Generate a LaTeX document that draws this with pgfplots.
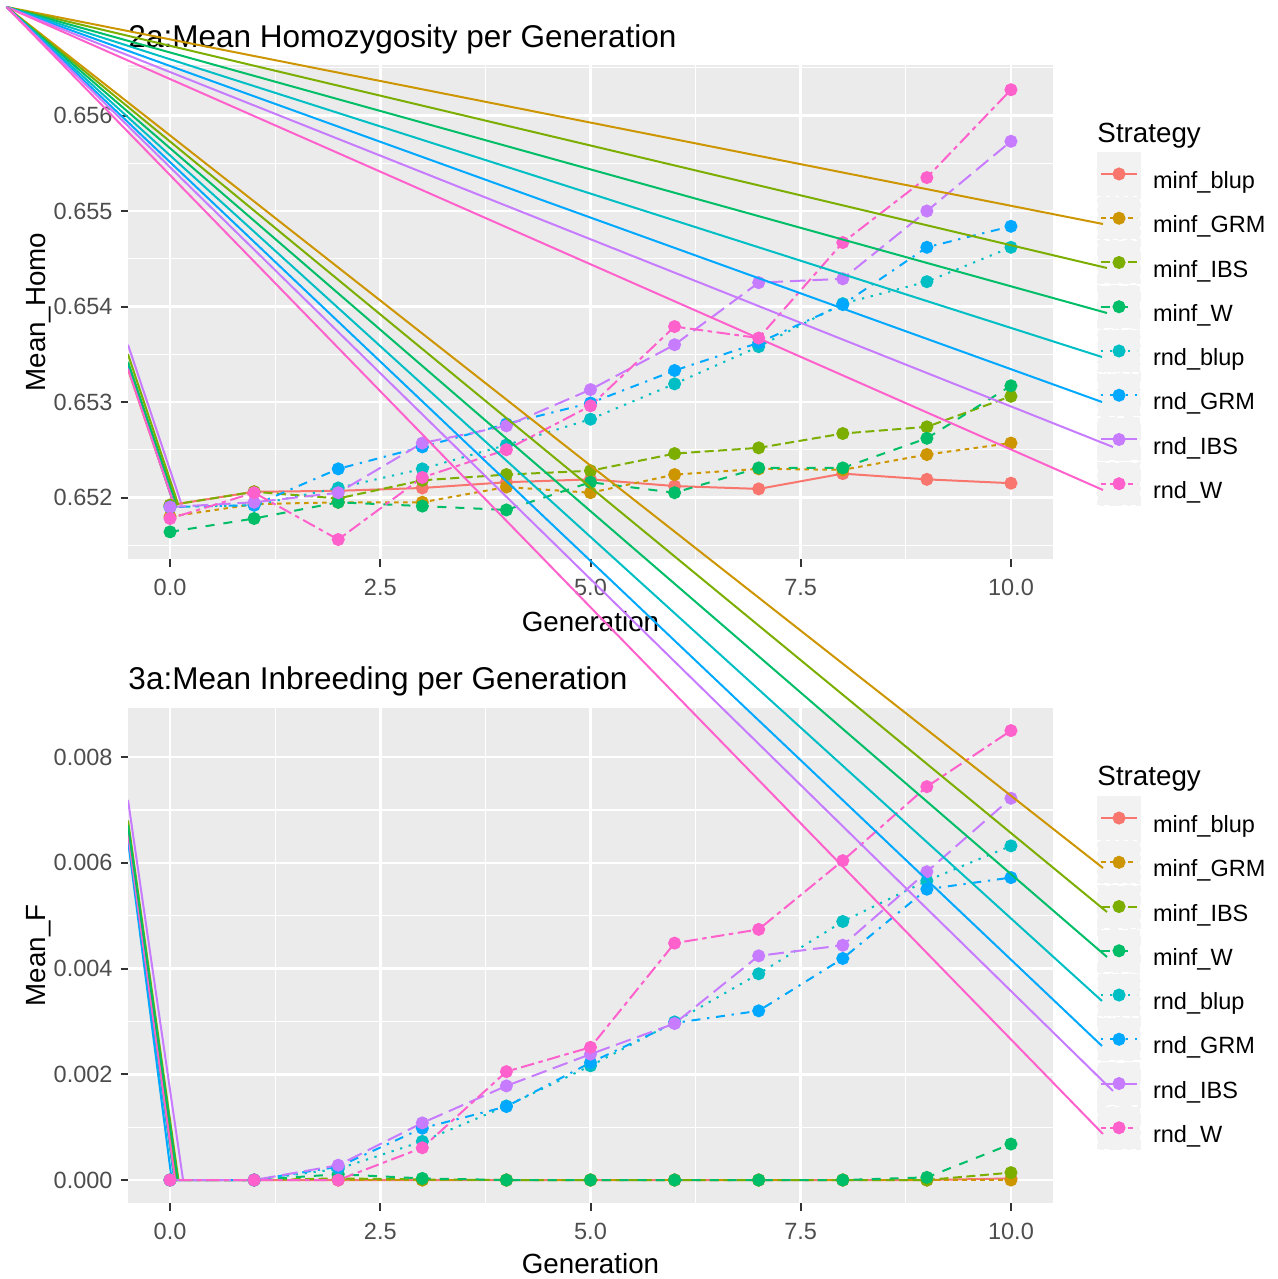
\documentclass[border=0pt]{standalone}
\usepackage{fontspec}
\setmainfont{Liberation Sans}
\usepackage{pgfplots}
\usepackage{pgfplotstable}
\pgfplotsset{compat=1.18}

\definecolor{cA}{HTML}{F8766D}
\definecolor{cB}{HTML}{CD9600}
\definecolor{cC}{HTML}{7CAE00}
\definecolor{cD}{HTML}{00BE67}
\definecolor{cE}{HTML}{00BFC4}
\definecolor{cF}{HTML}{00A9FF}
\definecolor{cG}{HTML}{C77CFF}
\definecolor{cH}{HTML}{FF61CC}
\definecolor{panelbg}{HTML}{EBEBEB}
\definecolor{keybg}{HTML}{F2F2F2}
\definecolor{tickgray}{HTML}{4D4D4D}
\definecolor{tickmark}{HTML}{333333}

\newcommand\tickfont{\fontsize{9.4}{11}\selectfont}
\newcommand\labfont{\fontsize{11.1}{13}\selectfont}
\newcommand\titfont{\fontsize{12.6}{15}\selectfont}

% Mean_Homo per generation
\pgfplotstableread{
gen mblup   mGRM    mIBS    mW      rblup   rGRM    rIBS    rW
0   0.65192 0.65180 0.65192 0.65164 0.65190 0.65190 0.65190 0.65178
1   0.65206 0.65193 0.65206 0.65178 0.65192 0.65192 0.65195 0.65205
2   0.65207 0.65195 0.65199 0.65195 0.65210 0.65230 0.65205 0.65156
3   0.65210 0.65195 0.65218 0.65191 0.65230 0.65253 0.65257 0.65221
4   0.65216 0.65211 0.65224 0.65187 0.65255 0.65277 0.65275 0.65250
5   0.65219 0.65205 0.65228 0.65216 0.65282 0.65299 0.65313 0.65296
6   0.65212 0.65224 0.65246 0.65205 0.65319 0.65333 0.65360 0.65379
7   0.65209 0.65230 0.65252 0.65231 0.65358 0.65362 0.65425 0.65367
8   0.65225 0.65229 0.65267 0.65231 0.65403 0.65402 0.65429 0.65467
9   0.65219 0.65245 0.65274 0.65262 0.65426 0.65462 0.65500 0.65535
10  0.65215 0.65257 0.65306 0.65317 0.65462 0.65484 0.65573 0.65627
}\homo

% Mean_F per generation
\pgfplotstableread{
gen mblup   mGRM    mIBS    mW      rblup    rGRM     rIBS     rW
0   0       0       0       0       0        0        0        0
1   0       0       0       0       0        0        0        0
2   0       0       0.00003 0.00011 0.00021  0.00025  0.00028  0
3   0       0       0.00001 0.00003 0.00073  0.00098  0.00108  0.00061
4   0       0       0       0       0.00140  0.00139  0.00178  0.00205
5   0       0       0       0       0.00216  0.00222  0.00238  0.00251
6   0       0       0       0       0.00299  0.00297  0.00296  0.00448
7   0       0       0       0       0.00390  0.00320  0.00424  0.00474
8   0       0       0       0       0.00489  0.00419  0.00444  0.00604
9   0       0       0       0.00005 0.00566  0.00550  0.00583  0.00744
10  0.00003 0       0.00014 0.00068 0.00632  0.00572  0.00722  0.00850
}\inbr

\pgfplotsset{
  lt1/.style={solid},
  lt2/.style={dash pattern=on 1.8pt off 1.8pt},
  lt3/.style={dash pattern=on 3.6pt off 1.8pt},
  lt4/.style={dash pattern=on 3.6pt off 3.6pt},
  lt5/.style={dash pattern=on 0.9pt off 2.7pt},
  lt6/.style={dash pattern=on 0.9pt off 2.7pt on 3.6pt off 2.7pt},
  lt7/.style={dash pattern=on 6.3pt off 2.7pt},
  lt8/.style={dash pattern=on 1.8pt off 1.8pt on 5.4pt off 1.8pt},
  ggpanel/.style={
    scale only axis, width=370pt,
    xmin=-0.5, xmax=10.5,
    axis background/.style={fill=panelbg},
    axis line style={draw=none},
    tick align=outside, tick pos=left,
    major tick length=3pt, minor tick length=0pt,
    tick style={draw=tickmark, line width=0.8pt},
    grid=both,
    major grid style={white, line width=1pt},
    minor grid style={white, line width=0.5pt},
    xtick={0,2.5,5,7.5,10},
    xticklabels={0.0,2.5,5.0,7.5,10.0},
    minor xtick={1.25,3.75,6.25,8.75},
    scaled ticks=false,
    tick label style={font=\tickfont, text=tickgray, inner sep=0pt},
    xticklabel style={yshift=-5pt},
    yticklabel style={xshift=-3pt},
    legend style={draw=none, fill=none, inner sep=0pt, outer sep=0pt,
      row sep=0.1pt, column sep=4.8pt, anchor=north west,
      nodes={inner sep=0pt, font=\tickfont, text=black}},
    legend cell align=left,
    legend image code/.code={%
      \fill[keybg] (0pt,-5.2pt) rectangle (16.8pt,11.6pt);
      \draw[mark repeat=2,mark phase=2] plot coordinates {(1.2pt,3.2pt)(8.4pt,3.2pt)(15.6pt,3.2pt)};
    },
    every axis plot/.append style={line width=0.8pt},
  },
  lineonly/.style={no marks, forget plot},
  dots/.style={only marks, mark=*, mark size=2.2pt, forget plot},
  keyimg/.style={mark=*, mark size=2.2pt, mark options={solid}, line width=0.8pt},
}

\begin{document}
\begin{tikzpicture}
\path[use as bounding box] (0pt,0pt) rectangle (511.2pt,-511.6pt);

% ---------------- 2a ----------------
\begin{axis}[ggpanel,
  at={(51.2pt,-223.6pt)}, anchor=south west,
  height=197.6pt,
  ymin=0.651356, ymax=0.656529,
  ytick={0.652,0.653,0.654,0.655,0.656},
  yticklabels={0.652,0.653,0.654,0.655,0.656},
  minor ytick={0.6515,0.6525,0.6535,0.6545,0.6555,0.6565},
  legend style={at={(1.0476,0.8239)}},
]
% stray segments at the left edge
\addplot[cA, lineonly] coordinates {(-0.5,0.65334) (0.05,0.65192)};
\addplot[cB, lineonly] coordinates {(-0.5,0.65336) (0.05,0.65192)};
\addplot[cE, lineonly] coordinates {(-0.5,0.65339) (0.05,0.65192)};
\addplot[cF, lineonly] coordinates {(-0.5,0.65337) (0.05,0.65192)};
\addplot[cH, lineonly] coordinates {(-0.5,0.65335) (0.05,0.65192)};
\addplot[cD, lineonly] coordinates {(-0.5,0.65342) (0.08,0.65192)};
\addplot[cC, lineonly] coordinates {(-0.5,0.65350) (0.10,0.65192)};
\addplot[cG, lineonly] coordinates {(-0.5,0.65360) (0.14,0.65192)};

\addplot[cA, lt1, lineonly] table[x=gen, y=mblup] {\homo};
\addplot[cB, lt2, lineonly] table[x=gen, y=mGRM] {\homo};
\addplot[cC, lt3, lineonly] table[x=gen, y=mIBS] {\homo};
\addplot[cD, lt4, lineonly] table[x=gen, y=mW] {\homo};
\addplot[cE, lt5, lineonly] table[x=gen, y=rblup] {\homo};
\addplot[cF, lt6, lineonly] table[x=gen, y=rGRM] {\homo};
\addplot[cG, lt7, lineonly] table[x=gen, y=rIBS] {\homo};
\addplot[cH, lt8, lineonly] table[x=gen, y=rW] {\homo};

\addplot[cA, dots] table[x=gen, y=mblup] {\homo};
\addplot[cB, dots] table[x=gen, y=mGRM] {\homo};
\addplot[cC, dots] table[x=gen, y=mIBS] {\homo};
\addplot[cD, dots] table[x=gen, y=mW] {\homo};
\addplot[cE, dots] table[x=gen, y=rblup] {\homo};
\addplot[cF, dots] table[x=gen, y=rGRM] {\homo};
\addplot[cG, dots] table[x=gen, y=rIBS] {\homo};
\addplot[cH, dots] table[x=gen, y=rW] {\homo};

\addlegendimage{cA, lt1, keyimg}\addlegendentry{minf\_blup}
\addlegendimage{cB, lt2, keyimg}\addlegendentry{minf\_GRM}
\addlegendimage{cC, lt3, keyimg}\addlegendentry{minf\_IBS}
\addlegendimage{cD, lt4, keyimg}\addlegendentry{minf\_W}
\addlegendimage{cE, lt5, keyimg}\addlegendentry{rnd\_blup}
\addlegendimage{cF, lt6, keyimg}\addlegendentry{rnd\_GRM}
\addlegendimage{cG, lt7, keyimg}\addlegendentry{rnd\_IBS}
\addlegendimage{cH, lt8, keyimg}\addlegendentry{rnd\_W}
\end{axis}

% ---------------- 3a ----------------
\begin{axis}[ggpanel,
  at={(51.2pt,-481.2pt)}, anchor=south west,
  height=198pt,
  ymin=-0.000435, ymax=0.008927,
  ytick={0,0.002,0.004,0.006,0.008},
  yticklabels={0.000,0.002,0.004,0.006,0.008},
  minor ytick={0.001,0.003,0.005,0.007},
  legend style={at={(1.0476,0.8222)}},
]
\addplot[cA, lineonly] coordinates {(-0.5,0.00655) (0.06,0)};
\addplot[cB, lineonly] coordinates {(-0.5,0.00665) (0.07,0)};
\addplot[cE, lineonly] coordinates {(-0.5,0.00648) (0.05,0)};
\addplot[cF, lineonly] coordinates {(-0.5,0.00643) (0.02,0)};
\addplot[cH, lineonly] coordinates {(-0.5,0.00656) (0.06,0)};
\addplot[cC, lineonly] coordinates {(-0.5,0.00680) (0.10,0)};
\addplot[cD, lineonly] coordinates {(-0.5,0.00671) (0.09,0)};
\addplot[cG, lineonly] coordinates {(-0.5,0.00719) (0.155,0)};

\addplot[cA, lt1, lineonly] table[x=gen, y=mblup] {\inbr};
\addplot[cB, lt2, lineonly] table[x=gen, y=mGRM] {\inbr};
\addplot[cC, lt3, lineonly] table[x=gen, y=mIBS] {\inbr};
\addplot[cD, lt4, lineonly] table[x=gen, y=mW] {\inbr};
\addplot[cE, lt5, lineonly] table[x=gen, y=rblup] {\inbr};
\addplot[cF, lt6, lineonly] table[x=gen, y=rGRM] {\inbr};
\addplot[cG, lt7, lineonly] table[x=gen, y=rIBS] {\inbr};
\addplot[cH, lt8, lineonly] table[x=gen, y=rW] {\inbr};

\addplot[cA, dots] table[x=gen, y=mblup] {\inbr};
\addplot[cB, dots] table[x=gen, y=mGRM] {\inbr};
\addplot[cC, dots] table[x=gen, y=mIBS] {\inbr};
\addplot[cD, dots] table[x=gen, y=mW] {\inbr};
\addplot[cE, dots] table[x=gen, y=rblup] {\inbr};
\addplot[cF, dots] table[x=gen, y=rGRM] {\inbr};
\addplot[cG, dots] table[x=gen, y=rIBS] {\inbr};
\addplot[cH, dots] table[x=gen, y=rW] {\inbr};

\addlegendimage{cA, lt1, keyimg}\addlegendentry{minf\_blup}
\addlegendimage{cB, lt2, keyimg}\addlegendentry{minf\_GRM}
\addlegendimage{cC, lt3, keyimg}\addlegendentry{minf\_IBS}
\addlegendimage{cD, lt4, keyimg}\addlegendentry{minf\_W}
\addlegendimage{cE, lt5, keyimg}\addlegendentry{rnd\_blup}
\addlegendimage{cF, lt6, keyimg}\addlegendentry{rnd\_GRM}
\addlegendimage{cG, lt7, keyimg}\addlegendentry{rnd\_IBS}
\addlegendimage{cH, lt8, keyimg}\addlegendentry{rnd\_W}
\end{axis}

% titles, axis titles and the stray lines, in pixel units of the reference
\begin{scope}[x=0.4pt, y=-0.4pt]
\node[anchor=base west, inner sep=0pt, font=\titfont] at (128,47) {2a:Mean Homozygosity per Generation};
\node[anchor=base west, inner sep=0pt, font=\titfont] at (128,690) {3a:Mean Inbreeding per Generation};
\node[anchor=base, inner sep=0pt, font=\labfont] at (590.5,632) {Generation};
\node[anchor=base, inner sep=0pt, font=\labfont] at (590.5,1274) {Generation};
\node[anchor=base, inner sep=0pt, font=\labfont, rotate=90] at (45,312) {Mean\_Homo};
\node[anchor=base, inner sep=0pt, font=\labfont, rotate=90] at (45,955.5) {Mean\_F};
\node[anchor=base west, inner sep=0pt, font=\labfont] at (1097,142) {Strategy};
\node[anchor=base west, inner sep=0pt, font=\labfont] at (1097,786) {Strategy};

\begin{scope}[line width=0.8pt]
\draw[cB] (6.5,7) -- (1103,224);
\draw[cC] (6.5,7) -- (1107,268);
\draw[cD] (6.5,7) -- (1107,313);
\draw[cE] (6.5,7) -- (1102,357);
\draw[cF] (6.5,7) -- (1102,402);
\draw[cG] (6.5,7) -- (1113,447);
\draw[cH] (6.5,7) -- (1103,490);
\draw[cB] (6.5,7) -- (1103,868);
\draw[cC] (6.5,7) -- (1107,912);
\draw[cD] (6.5,7) -- (1107,957);
\draw[cE] (6.5,7) -- (1102,1001);
\draw[cF] (6.5,7) -- (1102,1046);
\draw[cG] (6.5,7) -- (1113,1091);
\draw[cH] (6.5,7) -- (1103,1134);
\end{scope}
\end{scope}
\end{tikzpicture}
\end{document}
